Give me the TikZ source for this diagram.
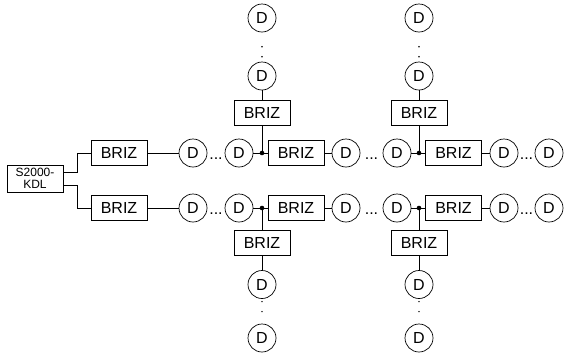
\documentclass[tikz,border=0pt]{standalone}
\usepackage{fontspec}
\setmainfont{Liberation Sans}
\begin{document}
\begin{tikzpicture}[x=1pt,y=-1pt,line width=0.7pt,
    brizbox/.style={draw,minimum width=56pt,minimum height=25pt,inner sep=0pt,font=\fontsize{16}{18}\selectfont},
    kdlbox/.style={draw,minimum width=56pt,minimum height=27pt,inner sep=0pt,align=center,font=\fontsize{12}{12.5}\selectfont},
    det/.style={draw,circle,minimum size=28pt,inner sep=0pt,font=\fontsize{16}{18}\selectfont},
    hdots/.style={anchor=base,inner sep=0pt,font=\fontsize{16}{18}\selectfont},
    vdots/.style={line width=1.6pt,line cap=round,dash pattern=on 0pt off 10pt}]
  \useasboundingbox (0,0) rectangle (569,354);

  % controller and the two line BRIZ
  \node[kdlbox] (kdl) at (35,178.5) {S2000-\\KDL};
  \node[brizbox] (bt0) at (119,153) {BRIZ};
  \node[brizbox] (bb0) at (119,208) {BRIZ};
  \draw ([yshift=6.5pt]kdl.east) -- ++(14,0) |- (bt0.west);
  \draw ([yshift=-6.5pt]kdl.east) -- ++(14,0) |- (bb0.west);

  % the two rows
  \foreach \r/\y in {t/153,b/208}{
    \node[det] (\r1) at (193,\y) {D};
    \node[det] (\r2) at (239,\y) {D};
    \node[brizbox] (b\r1) at (296,\y) {BRIZ};
    \node[det] (\r3) at (346,\y) {D};
    \node[det] (\r4) at (397,\y) {D};
    \node[brizbox] (b\r2) at (453.5,\y) {BRIZ};
    \node[det] (\r5) at (504,\y) {D};
    \node[det] (\r6) at (549,\y) {D};
    \node[hdots] at (216,\y+6) {...};
    \node[hdots] at (371.5,\y+6) {...};
    \node[hdots] at (526.5,\y+6) {...};
    \coordinate (j\r1) at (262,\y);
    \coordinate (j\r2) at (419,\y);
    \draw (b\r0) -- (\r1);
    \draw (\r2) -- (b\r1) (b\r1) -- (\r3);
    \draw (\r4) -- (b\r2) (b\r2) -- (\r5);
    \fill (j\r1) circle (2.3pt) (j\r2) circle (2.3pt);
  }

  % the branches up and down
  \foreach \c/\x in {1/262,2/419}{
    \node[brizbox] (ut\c) at (\x,113) {BRIZ};
    \node[det] (ua\c) at (\x,76) {D};
    \node[det] (uz\c) at (\x,18) {D};
    \draw (jt\c) -- (ut\c) (ut\c) -- (ua\c);
    \draw[vdots,shorten <=4.9pt,shorten >=4.9pt] (ua\c) -- (uz\c);
    \node[brizbox] (dt\c) at (\x,242.5) {BRIZ};
    \node[det] (da\c) at (\x,284.5) {D};
    \node[det] (dz\c) at (\x,338) {D};
    \draw (jb\c) -- (dt\c) (dt\c) -- (da\c);
    \draw[vdots,shorten <=2.7pt,shorten >=2.7pt] (da\c) -- (dz\c);
  }
\end{tikzpicture}
\end{document}
